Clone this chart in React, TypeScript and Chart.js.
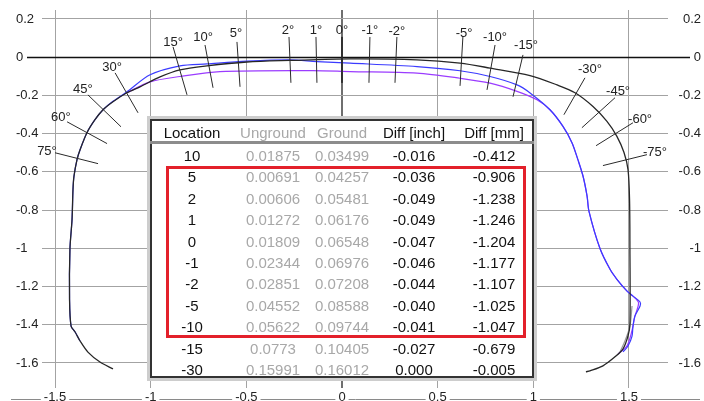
import React, { useEffect, useRef } from 'react';
import { Chart, registerables } from 'chart.js';

Chart.register(...registerables);

// ---------- axis ticks ----------
const xTicks = [-1.5, -1, -0.5, 0, 0.5, 1, 1.5];
const yTicks = [0.2, 0, -0.2, -0.4, -0.6, -0.8, -1, -1.2, -1.4, -1.6];

// ---------- profile curves (x, y) ----------
const profileCurve: [number, number][] = [
  [-1.197, -1.631], [-1.265, -1.595], [-1.328, -1.543], [-1.369, -1.485], [-1.395, -1.438],
  [-1.416, -1.407], [-1.424, -1.266], [-1.422, -1.005], [-1.411, -0.849], [-1.406, -0.692],
  [-1.401, -0.624], [-1.385, -0.536], [-1.369, -0.484], [-1.333, -0.395], [-1.291, -0.327],
  [-1.249, -0.275], [-1.197, -0.233], [-1.124, -0.186], [-1.056, -0.155], [-0.951, -0.103],
  [-0.847, -0.066], [-0.706, -0.045], [-0.497, -0.025], [-0.272, -0.017], [0.042, -0.009],
  [0.392, -0.014], [0.617, -0.031], [0.774, -0.057], [0.983, -0.096], [1.124, -0.145],
  [1.218, -0.186], [1.312, -0.258], [1.385, -0.336], [1.437, -0.414], [1.474, -0.499],
  [1.495, -0.588], [1.503, -0.745], [1.505, -1.005], [1.505, -1.397], [1.495, -1.458],
  [1.469, -1.526], [1.427, -1.568], [1.364, -1.615], [1.296, -1.641], [1.275, -1.646],
];

const groundCurve: [number, number][] = [
  [-1.369, -1.485], [-1.395, -1.438], [-1.416, -1.407], [-1.424, -1.266], [-1.422, -1.005],
  [-1.411, -0.849], [-1.406, -0.692], [-1.401, -0.624], [-1.385, -0.536], [-1.369, -0.484],
  [-1.333, -0.395], [-1.291, -0.327], [-1.249, -0.275], [-1.197, -0.231], [-1.124, -0.181],
  [-1.003, -0.092], [-0.847, -0.045], [-0.706, -0.035], [-0.497, -0.021], [-0.272, -0.014],
  [-0.131, -0.023], [0.042, -0.031], [0.392, -0.049], [0.617, -0.071], [0.774, -0.101],
  [0.915, -0.145], [0.983, -0.187], [1.087, -0.275], [1.155, -0.362], [1.202, -0.447],
  [1.233, -0.536], [1.26, -0.623], [1.281, -0.727], [1.291, -0.807], [1.348, -1.0],
  [1.401, -1.11], [1.437, -1.162], [1.49, -1.224], [1.521, -1.25], [1.558, -1.281],
  [1.558, -1.302], [1.531, -1.355], [1.521, -1.407], [1.516, -1.459], [1.495, -1.511],
  [1.469, -1.542],
];

const ungroundCurve: [number, number][] = [
  [-1.124, -0.186], [-1.003, -0.129], [-0.847, -0.101], [-0.638, -0.075], [-0.152, -0.07],
  [0.042, -0.075], [0.392, -0.083], [0.617, -0.11], [0.774, -0.136], [0.915, -0.179],
  [1.019, -0.223], [1.087, -0.275], [1.155, -0.362], [1.202, -0.447], [1.233, -0.536],
  [1.26, -0.623], [1.281, -0.727], [1.291, -0.807], [1.348, -1.0], [1.401, -1.11],
  [1.437, -1.162], [1.49, -1.224], [1.521, -1.25], [1.55, -1.285], [1.531, -1.355],
  [1.516, -1.43], [1.49, -1.51], [1.443, -1.553],
];

const tailCurve: [number, number][] = [
  [1.516, -1.302], [1.505, -1.407], [1.479, -1.485], [1.453, -1.542],
];

// ---------- angle markers ----------
const angleNames = ['75°', '60°', '45°', '30°', '15°', '10°', '5°', '2°', '1°', '0°',
  '-1°', '-2°', '-5°', '-10°', '-15°', '-30°', '-45°', '-60°', '-75°'];
const angleStart: [number, number][] = [
  [-1.5, -0.5], [-1.437, -0.338], [-1.328, -0.197], [-1.186, -0.082], [-0.883, 0.054],
  [-0.716, 0.064], [-0.549, 0.08], [-0.277, 0.106], [-0.136, 0.106], [0, 0.106],
  [0.146, 0.106], [0.287, 0.106], [0.632, 0.106], [0.8, 0.064], [0.946, 0.012],
  [1.27, -0.108], [1.427, -0.212], [1.521, -0.343], [1.594, -0.51],
];
const angleEnd: [number, number][] = [
  [-1.275, -0.557], [-1.228, -0.452], [-1.155, -0.364], [-1.066, -0.291], [-0.81, -0.197],
  [-0.674, -0.16], [-0.533, -0.155], [-0.267, -0.134], [-0.131, -0.134], [0, -0.134],
  [0.141, -0.134], [0.277, -0.134], [0.617, -0.15], [0.758, -0.171], [0.894, -0.207],
  [1.16, -0.301], [1.254, -0.369], [1.328, -0.463], [1.364, -0.567],
];
const angleLabelAt: [number, number][] = [
  [-1.542, -0.494], [-1.469, -0.317], [-1.354, -0.171], [-1.202, -0.056], [-0.883, 0.075],
  [-0.726, 0.106], [-0.554, 0.127], [-0.282, 0.142], [-0.136, 0.142], [0, 0.142],
  [0.146, 0.142], [0.287, 0.137], [0.638, 0.122], [0.8, 0.101], [0.962, 0.064],
  [1.296, -0.066], [1.443, -0.181], [1.558, -0.327], [1.636, -0.499],
];

// ---------- table ----------
const tableHeader = ['Location', 'Unground', 'Ground', 'Diff [inch]', 'Diff [mm]'];
const locations = ['10', '5', '2', '1', '0', '-1', '-2', '-5', '-10', '-15', '-30'];
const ungroundVals = ['0.01875', '0.00691', '0.00606', '0.01272', '0.01809', '0.02344', '0.02851', '0.04552', '0.05622', '0.0773', '0.15991'];
const groundVals = ['0.03499', '0.04257', '0.05481', '0.06176', '0.06548', '0.06976', '0.07208', '0.08588', '0.09744', '0.10405', '0.16012'];
const diffInch = ['-0.016', '-0.036', '-0.049', '-0.049', '-0.047', '-0.046', '-0.044', '-0.040', '-0.041', '-0.027', '0.000'];
const diffMm = ['-0.412', '-0.906', '-1.238', '-1.246', '-1.204', '-1.177', '-1.107', '-1.025', '-1.047', '-0.679', '-0.005'];

const FONT = '"Liberation Sans", Arial, Helvetica, sans-serif';

export default function App() {
  const ref = useRef<HTMLCanvasElement>(null);

  useEffect(() => {
    if (!ref.current) return;
    const toXY = (pts: [number, number][]) => pts.map(([x, y]) => ({ x, y }));
    const base = { showLine: true, pointRadius: 0, pointHoverRadius: 0, fill: false };
    const datasets: any[] = [
      { ...base, label: 'profile', data: toXY(profileCurve), borderColor: '#262626', borderWidth: 1.3, tension: 0.3, order: 1 },
      { ...base, label: 'tail', data: toXY(tailCurve), borderColor: '#9a9a9a', borderWidth: 1.2, tension: 0.3, order: 2 },
      { ...base, label: 'ground', data: toXY(groundCurve), borderColor: '#3b3bff', borderWidth: 1.2, tension: 0.3, order: 3 },
      { ...base, label: 'unground', data: toXY(ungroundCurve), borderColor: '#9b3cff', borderWidth: 1.2, tension: 0.3, order: 4 },
      ...angleNames.map((n, i) => ({
        ...base,
        label: n,
        data: toXY([angleStart[i], angleEnd[i]]),
        borderColor: '#2a2a2a',
        borderWidth: 1,
        order: 0,
      })),
    ];

    const decor = {
      id: 'decor',
      beforeDraw(chart: any) {
        const { ctx } = chart;
        ctx.save();
        ctx.strokeStyle = '#8a8a8a';
        ctx.lineWidth = 1;
        ctx.beginPath();
        ctx.moveTo(11, 399.5);
        ctx.lineTo(700, 399.5);
        ctx.stroke();
        ctx.restore();
      },
      beforeDatasetsDraw(chart: any) {
        const { ctx, chartArea } = chart;
        const y = Math.round(chart.scales.y.getPixelForValue(0)) + 0.5;
        ctx.save();
        ctx.strokeStyle = '#111';
        ctx.lineWidth = 1.3;
        ctx.beginPath();
        ctx.moveTo(chartArea.left - 15, y);
        ctx.lineTo(chartArea.right + 22, y);
        ctx.stroke();
        ctx.restore();
      },
      afterDatasetsDraw(chart: any) {
        const { ctx } = chart;
        ctx.save();
        ctx.font = `13px ${FONT}`;
        ctx.fillStyle = '#222';
        ctx.textAlign = 'center';
        ctx.textBaseline = 'middle';
        angleNames.forEach((n, i) => {
          const px = chart.scales.x.getPixelForValue(angleLabelAt[i][0]);
          const py = chart.scales.y.getPixelForValue(angleLabelAt[i][1]);
          ctx.fillText(n, px, py);
        });
        ctx.restore();
      },
    };

    const gridGray = '#a3a3a3';
    const chart = new Chart(ref.current, {
      type: 'scatter',
      data: { datasets },
      options: {
        animation: false,
        responsive: false,
        maintainAspectRatio: false,
        devicePixelRatio: 1,
        layout: { padding: { left: 16, right: 3, top: 10, bottom: 0 } },
        plugins: { legend: { display: false }, tooltip: { enabled: false } },
        scales: {
          x: {
            type: 'linear',
            position: 'bottom',
            min: -1.568,
            max: 1.704,
            afterBuildTicks: (s: any) => { s.ticks = xTicks.map((v) => ({ value: v })); },
            afterFit: (s: any) => { s.height = 17; },
            border: { display: false },
            grid: {
              color: (c: any) => (c.tick && c.tick.value === 0 ? '#6f6f6f' : gridGray),
              lineWidth: (c: any) => (c.tick && c.tick.value === 0 ? 2 : 1),
              drawTicks: true,
              tickLength: 4,
            },
            ticks: {
              font: { size: 13, family: FONT },
              color: '#222',
              padding: 2,
              maxRotation: 0,
              autoSkip: false,
              showLabelBackdrop: true,
              backdropColor: '#ffffff',
              backdropPadding: { x: 3, y: 1 },
              callback: (v: any) => String(v),
            } as any,
          },
          y: {
            type: 'linear',
            position: 'left',
            min: -1.71,
            max: 0.247,
            afterBuildTicks: (s: any) => { s.ticks = yTicks.map((v) => ({ value: v })); },
            afterFit: (s: any) => { s.width = 26; },
            border: { display: false },
            grid: { color: gridGray, lineWidth: 1, drawTicks: false },
            ticks: {
              font: { size: 13, family: FONT },
              color: '#222',
              crossAlign: 'far',
              padding: 0,
              autoSkip: false,
              callback: (v: any) => String(v),
            },
          },
          y2: {
            type: 'linear',
            position: 'right',
            min: -1.71,
            max: 0.247,
            afterBuildTicks: (s: any) => { s.ticks = yTicks.map((v) => ({ value: v })); },
            afterFit: (s: any) => { s.width = 33; },
            border: { display: false },
            grid: { drawOnChartArea: false, drawTicks: false },
            ticks: {
              font: { size: 13, family: FONT },
              color: '#222',
              crossAlign: 'far',
              padding: 0,
              autoSkip: false,
              callback: (v: any) => String(v),
            },
          },
        },
      },
      plugins: [decor],
    } as any);
    return () => chart.destroy();
  }, []);

  const colCenters = [192, 273, 342, 414, 494];
  const headerColors = ['#111', '#a8a8a8', '#a8a8a8', '#111', '#111'];
  const rowTop = 156;
  const rowStep = 21.4;
  const columns = [locations, ungroundVals, groundVals, diffInch, diffMm];

  const cell = (text: string, cx: number, cy: number, color: string, key: string) => (
    <div
      key={key}
      style={{
        position: 'absolute',
        left: cx - 60,
        top: cy - 9,
        width: 120,
        height: 18,
        lineHeight: '18px',
        textAlign: 'center',
        fontFamily: FONT,
        fontSize: 15,
        color,
        whiteSpace: 'nowrap',
      }}
    >
      {text}
    </div>
  );

  return (
    <div style={{ position: 'fixed', left: 0, top: 0, width: 704, height: 401, background: '#fff', overflow: 'hidden' }}>
      <canvas ref={ref} width={704} height={401} style={{ position: 'absolute', left: 0, top: 0, width: 704, height: 401 }} />
      <div style={{ position: 'absolute', left: 147, top: 116, width: 390, height: 265, boxSizing: 'border-box', border: '3px solid #cdcdcd', background: '#fff' }}>
        <div style={{ position: 'absolute', left: 0, top: 0, right: 0, bottom: 0, border: '2px solid #333' }} />
      </div>
      <div style={{ position: 'absolute', left: 150, top: 141, width: 384, height: 3, background: '#8c8c8c' }} />
      <div style={{ position: 'absolute', left: 166, top: 166, width: 360, height: 172, boxSizing: 'border-box', border: '3px solid #e3202a' }} />
      {tableHeader.map((h, i) => cell(h, colCenters[i], 133, headerColors[i], 'h' + i))}
      {columns.map((col, ci) =>
        col.map((v, ri) => cell(v, colCenters[ci], rowTop + ri * rowStep, headerColors[ci], `c${ci}-${ri}`))
      )}
    </div>
  );
}
